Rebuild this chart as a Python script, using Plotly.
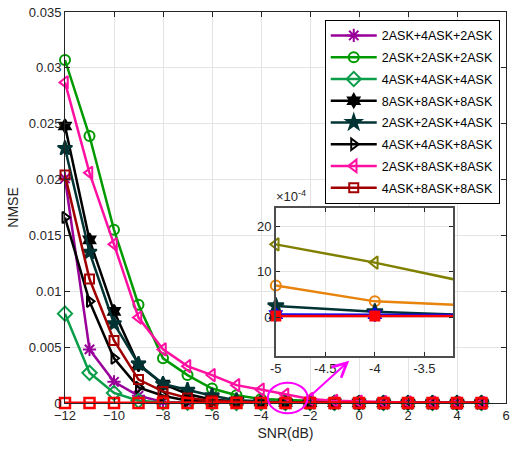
import plotly.graph_objects as go

# ---------------- data ----------------
snr = [-12, -11, -10, -9, -8, -7, -6, -5, -4, -3, -2, -1, 0, 1, 2, 3, 4, 5]

series_names = ["2ASK+4ASK+2ASK", "2ASK+2ASK+2ASK", "4ASK+4ASK+4ASK", "8ASK+8ASK+8ASK",
                "2ASK+2ASK+4ASK", "4ASK+4ASK+8ASK", "2ASK+8ASK+8ASK", "4ASK+8ASK+8ASK"]

nmse_242 = [0.0201, 0.0048, 0.0019, 0.00065, 0.0001, 0.00005, 0.00003, 0.00002, 0.00001, 0.00001,
            0, 0, 0, 0, 0, 0, 0, 0]
nmse_222 = [0.0307, 0.0239, 0.0155, 0.0088, 0.0040, 0.0025, 0.0013, 0.0007, 0.00035, 0.00026,
            0.0002, 0.00012, 0.00008, 0.00005, 0.00003, 0.00002, 0.00001, 0.00001]
nmse_444 = [0.0080, 0.0027, 0.0009, 0.0002, 0.00005, 0.00002, 0.00001, 0.00001, 0, 0,
            0, 0, 0, 0, 0, 0, 0, 0]
nmse_888 = [0.0248, 0.0146, 0.0082, 0.0034, 0.0017, 0.0008, 0.0003, 0.00015, 0.0001, 0.00005,
            0.00003, 0.00002, 0.00001, 0.00001, 0, 0, 0, 0]
nmse_224 = [0.0228, 0.0135, 0.0071, 0.0035, 0.0017, 0.00116, 0.00065, 0.00025, 0.00012, 0.00005,
            0.00003, 0.00002, 0.00001, 0.00001, 0, 0, 0, 0]
nmse_448 = [0.0166, 0.0091, 0.0040, 0.0014, 0.00065, 0.0002, 0.0001, 0.00005, 0.00002, 0.00001,
            0, 0, 0, 0, 0, 0, 0, 0]
nmse_288 = [0.0287, 0.0206, 0.0142, 0.00765, 0.0048, 0.0033, 0.0025, 0.0016, 0.0012, 0.00075,
            0.00036, 0.0002, 0.00012, 0.00008, 0.00005, 0.00003, 0.00002, 0.00001]
nmse_488 = [0.0204, 0.0111, 0.0056, 0.0021, 0.00104, 0.00045, 0.0002, 0.0001, 0.00005, 0.00002,
            0.00001, 0, 0, 0, 0, 0, 0, 0]
nmse_ref = [0] * 18

main_series = [nmse_242, nmse_222, nmse_444, nmse_888, nmse_224, nmse_448, nmse_288, nmse_488]

# inset (zoom of SNR -5 .. -3, values in units of 1e-4)
inset_snr = [-5, -4, -3]
inset_olive = [16, 12, 7.4]
inset_orange = [7, 3.5, 2.6]
inset_teal = [2.5, 1.2, 0.5]
inset_blue = [0.6, 0.6, 0.5]
inset_red = [0.3, 0.3, 0.3]

x_ticks = [-12, -10, -8, -6, -4, -2, 0, 2, 4, 6]
y_ticks = [0, 0.005, 0.01, 0.015, 0.02, 0.025, 0.03, 0.035]
y_ticktext = ["0", "0.005", "0.01", "0.015", "0.02", "0.025", "0.03", "0.035"]
inset_x_ticks = [-5, -4.5, -4, -3.5]
inset_x_ticktext = ["-5", "-4.5", "-4", "-3.5"]
inset_y_ticks = [0, 10, 20]

# ---------------- styles ----------------
X_RANGE = [-12, 6]
Y_RANGE = [0, 0.035]
styles = [
    dict(color="#990099", symbol="asterisk-open", size=11),
    dict(color="#009a00", symbol="circle-open", size=10),
    dict(color="#0a9e4a", symbol="diamond-open", size=11),
    dict(color="#000000", symbol="hexagram", size=10),
    dict(color="#003333", symbol="star", size=11),
    dict(color="#000000", symbol="triangle-right-open", size=10),
    dict(color="#ff10a0", symbol="triangle-left-open", size=11),
    dict(color="#a00000", symbol="square-open", size=9),
]

fig = go.Figure()

for name, vals, st in zip(series_names, main_series, styles):
    fig.add_trace(go.Scatter(
        x=snr, y=vals, name=name, mode="lines+markers",
        line=dict(color=st["color"], width=2.5),
        marker=dict(symbol=st["symbol"], size=st["size"], color=st["color"],
                    line=dict(color=st["color"], width=2)),
        cliponaxis=False, legendgroup=name, xaxis="x", yaxis="y"))

fig.add_trace(go.Scatter(
    x=snr, y=nmse_ref, mode="lines+markers", showlegend=False,
    line=dict(color="#ff0000", width=3),
    marker=dict(symbol="square-open", size=10, color="#ff0000", line=dict(color="#ff0000", width=2.5)),
    cliponaxis=False, xaxis="x", yaxis="y"))

# inset traces: lines (clipped) + markers at visible points
inset_sets = [
    (inset_olive, "#808000", "triangle-left-open", 11),
    (inset_orange, "#e8830c", "circle-open", 10),
    (inset_teal, "#003333", "star", 12),
    (inset_blue, "#0000ff", "hexagram", 10),
    (inset_red, "#ff0000", "square", 9),
]
for vals, col, sym, sz in inset_sets:
    fig.add_trace(go.Scatter(
        x=inset_snr, y=vals, mode="lines", showlegend=False,
        line=dict(color=col, width=2.5), xaxis="x2", yaxis="y2"))
    fig.add_trace(go.Scatter(
        x=inset_snr[:2], y=vals[:2], mode="markers", showlegend=False,
        marker=dict(symbol=sym, size=sz, color=col, line=dict(color=col, width=2)),
        cliponaxis=False, xaxis="x2", yaxis="y2"))

axis_col = "#262626"
grid_col = "#e3e3e3"
tick_font = dict(family="Liberation Sans, Arial, sans-serif", size=13, color=axis_col)

INSET_X = [0.478, 0.880]
INSET_Y = [0.120, 0.499]


def px_x(v):
    return (v - X_RANGE[0]) / (X_RANGE[1] - X_RANGE[0])


fig.update_layout(
    width=514, height=451,
    margin=dict(l=65, r=4, t=12, b=48),
    paper_bgcolor="white", plot_bgcolor="white",
    font=dict(family="Liberation Sans, Arial, sans-serif", size=13, color=axis_col),
    xaxis=dict(range=X_RANGE, tickvals=x_ticks, ticks="inside", ticklen=5, tickcolor=axis_col,
               showline=True, linecolor=axis_col, linewidth=1, mirror="ticks",
               showgrid=True, gridcolor=grid_col, gridwidth=1, zeroline=False,
               tickfont=tick_font, domain=[0, 1],
               title=dict(text="SNR(dB)", font=dict(size=14, color=axis_col), standoff=6)),
    yaxis=dict(range=Y_RANGE, tickvals=y_ticks, ticktext=y_ticktext, ticks="inside", ticklen=5,
               tickcolor=axis_col, showline=True, linecolor=axis_col, linewidth=1, mirror="ticks",
               showgrid=True, gridcolor=grid_col, gridwidth=1, zeroline=False,
               tickfont=tick_font, domain=[0, 1],
               title=dict(text="NMSE", font=dict(size=14, color=axis_col), standoff=6)),
    xaxis2=dict(domain=INSET_X, anchor="y2", range=[-5, -3.21], tickvals=inset_x_ticks,
                ticktext=inset_x_ticktext, ticks="inside", ticklen=4, tickcolor=axis_col,
                showline=True, linecolor="#4d4d4d", linewidth=1.5, mirror="ticks",
                showgrid=True, gridcolor=grid_col, zeroline=False, tickfont=tick_font),
    yaxis2=dict(domain=INSET_Y, anchor="x2", range=[-8.5, 24], tickvals=inset_y_ticks,
                ticks="inside", ticklen=4, tickcolor=axis_col,
                showline=True, linecolor="#4d4d4d", linewidth=1.5, mirror="ticks",
                showgrid=True, gridcolor=grid_col, zeroline=False, tickfont=tick_font),
    legend=dict(x=0.589, y=0.98, xanchor="left", yanchor="top",
                bgcolor="white", bordercolor="#000000", borderwidth=1,
                font=dict(size=12.5, color="#000000"), itemwidth=46,
                traceorder="grouped", tracegroupgap=2.5),
    showlegend=True,
)

# opaque background for the inset
fig.add_shape(type="rect", xref="x2 domain", yref="y2 domain", x0=0, x1=1, y0=0, y1=1,
              fillcolor="white", line=dict(width=0), layer="below")

# exponent label for inset
fig.add_annotation(text="\u00d710<sup>-4</sup>", xref="paper", yref="paper",
                   x=INSET_X[0] - 0.003, y=INSET_Y[1] + 0.004, xanchor="left", yanchor="bottom",
                   showarrow=False, font=dict(size=13, color=axis_col))

# magenta ellipse highlighting the zoomed region
fig.add_shape(type="circle", xref="paper", yref="paper",
              x0=px_x(-3.72), x1=px_x(-2.10), y0=-0.026, y1=0.052,
              line=dict(color="#ff00ff", width=2))

# arrow to the inset
fig.add_annotation(x=-0.4, y=0.00378, ax=-2.05, ay=0.0005, xref="x", yref="y",
                   axref="x", ayref="y", text="", showarrow=True,
                   arrowhead=5, arrowsize=1.4, arrowwidth=2, arrowcolor="#ff00ff")

fig.write_html("out.html")
